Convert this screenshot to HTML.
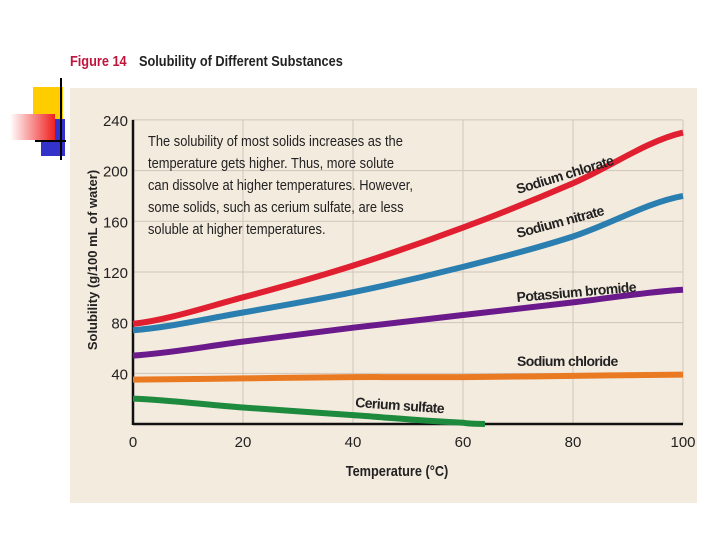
<!DOCTYPE html>
<html><head><meta charset="utf-8"><style>
body{margin:0;width:720px;height:540px;background:#fff;overflow:hidden;font-family:"Liberation Sans",sans-serif}
svg{display:block}
</style></head><body>
<svg width="720" height="540">
<defs><linearGradient id="rg" x1="0" x2="1"><stop offset="0" stop-color="#fff"/><stop offset="1" stop-color="#f02020"/></linearGradient></defs>
<rect x="33" y="87" width="30" height="32" fill="#ffcc00"/>
<rect x="41" y="119" width="24" height="37" fill="#3333cc"/>
<rect x="10" y="114" width="45" height="26" fill="url(#rg)"/>
<line x1="61" y1="78" x2="61" y2="160" stroke="#000" stroke-width="2"/>
<line x1="35" y1="141" x2="66" y2="141" stroke="#000" stroke-width="2"/>
<text x="70" y="66" font-size="15" font-weight="bold" fill="#c0143c" transform="scale(0.85,1)" style="transform-origin:70px 66px">Figure 14</text>
<text x="139" y="66" font-size="15" font-weight="bold" fill="#222" transform="scale(0.85,1)" style="transform-origin:139px 66px">Solubility of Different Substances</text>
<rect x="70" y="88" width="627" height="415" fill="#f4ebdf"/>
<g id="grid"></g>
<g id="axes"></g>
<g id="series"></g>
<text x="97" y="260" font-size="13" font-weight="bold" fill="#222" transform="rotate(-90 97 260)" text-anchor="middle">Solubility (g/100 mL of water)</text>
<text x="397" y="476" font-size="15" font-weight="bold" fill="#222" text-anchor="middle" transform="scale(0.85,1)" style="transform-origin:397px 476px">Temperature (°C)</text>
<g font-size="15" fill="#222" transform="scale(0.86,1)" style="transform-origin:148px 0">
<text x="148" y="146">The solubility of most solids increases as the</text>
<text x="148" y="168">temperature gets higher. Thus, more solute</text>
<text x="148" y="190">can dissolve at higher temperatures. However,</text>
<text x="148" y="212">some solids, such as cerium sulfate, are less</text>
<text x="148" y="234">soluble at higher temperatures.</text>
</g>
<g font-size="14" font-weight="bold" fill="#222" letter-spacing="-0.6">
<text x="518" y="194" transform="rotate(-17 518 194)">Sodium chlorate</text>
<text x="518" y="238" transform="rotate(-15 518 238)">Sodium nitrate</text>
<text x="517" y="302" transform="rotate(-5 517 302)">Potassium bromide</text>
<text x="517" y="366">Sodium chloride</text>
<text x="355" y="407" transform="rotate(4 355 407)">Cerium sulfate</text>
</g>
</svg>
<script>
const temps=[0,20,40,60,80,100];
const sodiumChlorate=[79,100,125,155,190,230];
const sodiumNitrate=[74,88,104,124,148,180];
const potassiumBromide=[54,65,76,86,96,106];
const sodiumChloride=[35,36,37,37,38,39];
const ceriumTemps=[0,20,40,60,64];
const ceriumSulfate=[20,13,7,1,0];
const yTicks=[0,40,80,120,160,200,240];
const xTicks=[0,20,40,60,80,100];
const NS="http://www.w3.org/2000/svg";
const X=v=>133+v*5.5, Y=v=>424-v*1.267;
function mk(t,a,p){const e=document.createElementNS(NS,t);for(const k in a)e.setAttribute(k,a[k]);document.getElementById(p).appendChild(e);return e;}
xTicks.forEach(t=>{if(t>0){const l=mk('line',{x1:X(t),x2:X(t),y1:Y(240),y2:Y(0),stroke:'#cfc6ba','stroke-width':1},'grid');

}
const tx=mk('text',{x:X(t),y:447,'font-size':15,'text-anchor':'middle',fill:'#222'},'axes');tx.textContent=t;

});
yTicks.forEach(t=>{if(t>0){const l=mk('line',{x1:X(0),x2:X(100),y1:Y(t),y2:Y(t),stroke:'#cfc6ba','stroke-width':1},'grid');


const tx=mk('text',{x:128,y:Y(t)+6,'font-size':15,'text-anchor':'end',fill:'#222'},'axes');tx.textContent=t;

}});
let a=mk('line',{x1:X(0),x2:X(0),y1:Y(240),y2:Y(0)+1,stroke:'#111','stroke-width':2.5},'axes');


a=mk('line',{x1:X(0),x2:X(100),y1:Y(0),y2:Y(0),stroke:'#111','stroke-width':2.5},'axes');


function line(xs,ys,c,n){let d='';xs.forEach((x,i)=>{const px=X(x),py=Y(ys[i]);if(i==0)d='M'+px+','+py;else{const x0=X(xs[i-1]),y0=Y(ys[i-1]);const pv=i>1?Y(ys[i-2]):y0,nx=i<xs.length-1?Y(ys[i+1]):py;d+=` C${x0+(px-x0)/3},${y0+(py-pv)/6} ${px-(px-x0)/3},${py-(nx-y0)/6} ${px},${py}`;}});
const p=mk('path',{d:d,fill:'none',stroke:c,'stroke-width':6},'series');

}
line(temps,sodiumChloride,'#ea7a22','series-sodium-chloride');
line(ceriumTemps,ceriumSulfate,'#1e8a3e','series-cerium-sulfate');
line(temps,potassiumBromide,'#6a1a8a','series-potassium-bromide');
line(temps,sodiumNitrate,'#2a7fb0','series-sodium-nitrate');
line(temps,sodiumChlorate,'#e02030','series-sodium-chlorate');
</script>
</body></html>
